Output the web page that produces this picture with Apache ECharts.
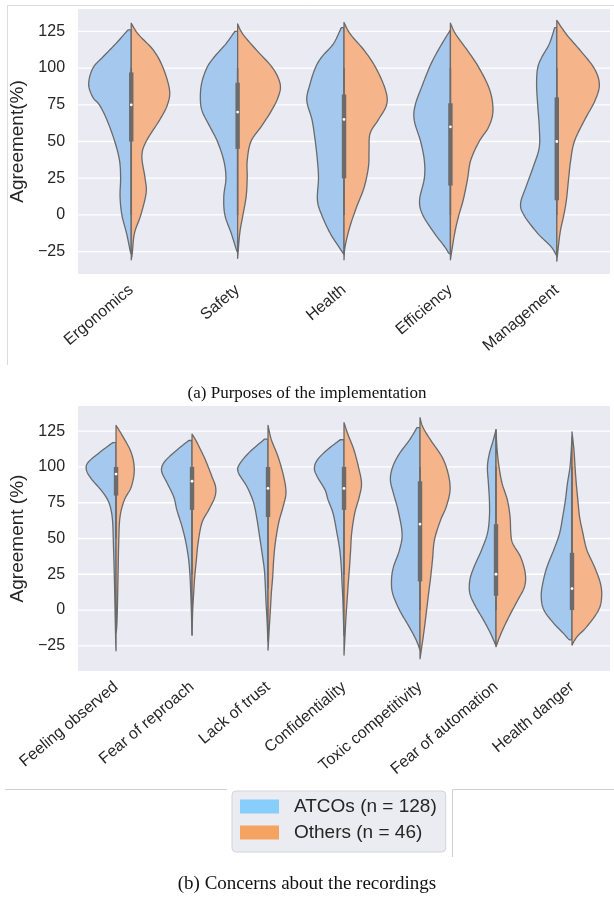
<!DOCTYPE html>
<html>
<head>
<meta charset="utf-8">
<script src="https://cdn.jsdelivr.net/npm/echarts@6/dist/echarts.min.js"></script>
<style>
  html, body { margin: 0; padding: 0; background: #ffffff; }
  #chart { width: 614px; height: 897px; }
</style>
</head>
<body>
<div id="chart"></div>
<script>
// ---------------- DATA ----------------
const catsA = ['Ergonomics', 'Safety', 'Health', 'Efficiency', 'Management'];
const catsB = ['Feeling observed', 'Fear of reproach', 'Lack of trust', 'Confidentiality',
               'Toxic competitivity', 'Fear of automation', 'Health danger'];
const yTicks = [-25, 0, 25, 50, 75, 100, 125];
const groupNames = ['ATCOs (n = 128)', 'Others (n = 46)'];

// Density profiles: [agreement value, half-width as a fraction of the category band]
const atcoA = [
  [[126,0.03],[117,0.14],[108,0.26],[100,0.36],[89,0.40],[80,0.36],[75,0.30],[65,0.23],[50,0.155],[37,0.11],[25,0.10],[12.5,0.105],[0,0.088],[-12.5,0.044],[-25,0.008],[-26,0]],
  [[125,0.026],[116.5,0.11],[107.5,0.22],[100,0.29],[89,0.34],[78,0.35],[70,0.33],[60,0.26],[50,0.19],[37,0.13],[25,0.11],[12.5,0.13],[0,0.12],[-12.5,0.06],[-24,0.01],[-25,0]],
  [[127.5,0.026],[116.5,0.10],[107.5,0.21],[100,0.27],[89,0.32],[78,0.35],[64.5,0.30],[50,0.27],[37,0.25],[25,0.24],[10,0.25],[0,0.21],[-12.5,0.13],[-21.5,0.05],[-27,0]],
  [[126,0],[116.5,0.08],[107.5,0.15],[100,0.20],[89,0.26],[75,0.33],[64.5,0.34],[50,0.28],[37,0.245],[25,0.245],[10,0.29],[0,0.26],[-12.5,0.15],[-21.5,0.055],[-26,0.015],[-26.2,0]],
  [[127.5,0.02],[116.5,0.07],[107.5,0.14],[100,0.18],[89,0.19],[75,0.18],[60,0.165],[46,0.165],[33,0.22],[19,0.29],[8,0.34],[0,0.31],[-12.5,0.18],[-21.5,0.055],[-28,0]]
];
const othersA = [
  [[130.5,0],[123,0.066],[112,0.21],[100,0.30],[85,0.36],[75,0.34],[65,0.27],[50,0.14],[40,0.10],[25,0.13],[15,0.14],[0,0.09],[-12.5,0.03],[-26,0.01],[-30.5,0]],
  [[130,0],[123,0.05],[112,0.18],[100,0.33],[89,0.40],[80,0.38],[70,0.31],[60,0.22],[50,0.125],[37,0.09],[25,0.09],[12.5,0.08],[0,0.05],[-12.5,0.02],[-29.5,0]],
  [[131,0],[123,0.06],[112,0.19],[100,0.30],[85,0.39],[75,0.40],[64.5,0.32],[55.5,0.245],[44,0.235],[33,0.23],[19,0.19],[5.7,0.12],[-8,0.055],[-21.5,0.01],[-30.5,0]],
  [[130.5,0],[123,0.05],[112,0.16],[100,0.27],[85,0.37],[71,0.40],[60,0.36],[50,0.27],[37,0.19],[24,0.16],[10,0.12],[0,0.08],[-12.5,0.04],[-30.5,0]],
  [[132.5,0],[123,0.09],[112,0.22],[100,0.35],[89,0.40],[78,0.36],[64.5,0.26],[50,0.165],[37,0.13],[24,0.11],[10,0.09],[0,0.066],[-12.5,0.03],[-31.5,0]]
];
const atcoB = [
  [[117,0.044],[110,0.22],[103,0.37],[98,0.39],[92,0.33],[84,0.20],[77,0.11],[70,0.066],[61,0.044],[47,0.035],[23,0.022],[0,0.013],[-23,0.004],[-28.5,0]],
  [[118.5,0.044],[110,0.24],[103,0.37],[97,0.40],[89,0.33],[79,0.24],[70,0.20],[58,0.13],[47,0.08],[35,0.044],[23,0.026],[12,0.017],[0,0.009],[-12,0.003],[-17.5,0]],
  [[119.5,0.044],[110,0.25],[101.5,0.38],[96,0.39],[86,0.275],[75,0.19],[63,0.144],[51,0.11],[40,0.079],[28,0.048],[16,0.035],[5,0.026],[-7,0.013],[-20,0.003],[-22,0]],
  [[119,0.05],[112,0.22],[105,0.35],[99,0.39],[93,0.35],[84,0.25],[77,0.21],[67.5,0.144],[53.5,0.092],[42,0.056],[30,0.036],[18.6,0.026],[7,0.015],[-15,0.003],[-18,0]],
  [[127.5,0.04],[118.7,0.14],[109.4,0.27],[100,0.36],[91,0.39],[81.5,0.35],[70,0.29],[53.5,0.236],[42,0.27],[30,0.35],[21,0.375],[11.6,0.36],[0,0.27],[-11.6,0.144],[-21,0.05],[-28,0]],
  [[126,0],[118.7,0.036],[109.4,0.087],[100,0.113],[88.5,0.10],[76.8,0.087],[65,0.087],[53.5,0.113],[42,0.19],[30,0.29],[21,0.344],[11.6,0.344],[2.3,0.267],[-7,0.164],[-16.3,0.072],[-25,0]],
  [[121,0],[111.7,0.01],[100,0.026],[88.5,0.06],[76.8,0.087],[65,0.123],[53.5,0.164],[42,0.24],[30,0.33],[18.6,0.385],[9.3,0.405],[0,0.37],[-9.3,0.24],[-16.3,0.113],[-20.5,0.04],[-20.6,0]]
];
const othersB = [
  [[129,0],[121.5,0.087],[110,0.20],[98,0.24],[86,0.20],[77,0.11],[65,0.052],[47,0.035],[23,0.026],[0,0.017],[-12,0.009],[-16,0]],
  [[123,0],[117,0.066],[105,0.175],[93.5,0.26],[86,0.31],[79,0.30],[70,0.22],[61,0.13],[47,0.08],[35,0.057],[23,0.035],[12,0.022],[0,0.009],[-17.5,0]],
  [[129,0],[119,0.044],[107.5,0.13],[93.5,0.205],[82,0.236],[72,0.197],[61,0.14],[47,0.096],[35,0.074],[23,0.061],[12,0.044],[0,0.031],[-12,0.017],[-28,0]],
  [[131,0],[123,0.05],[112,0.13],[100,0.19],[88.5,0.23],[79,0.20],[67.5,0.14],[53.5,0.10],[42,0.087],[30,0.072],[18.6,0.056],[7,0.041],[-4.7,0.026],[-16,0.015],[-31.5,0]],
  [[134.5,0],[128,0.036],[118.7,0.14],[107,0.29],[95.4,0.37],[83.8,0.395],[72,0.344],[62.8,0.27],[49,0.19],[35,0.164],[23,0.14],[11.6,0.113],[0,0.087],[-11.6,0.06],[-21,0.036],[-34,0]],
  [[126,0],[111.7,0.015],[100,0.04],[88.5,0.08],[76.8,0.15],[65,0.185],[53.5,0.195],[46.5,0.22],[37,0.324],[25.6,0.385],[16.3,0.375],[7,0.287],[-4.7,0.17],[-16.3,0.067],[-25.6,0]],
  [[124.5,0],[111.7,0.026],[100,0.04],[88.5,0.056],[76.8,0.077],[65,0.10],[53.5,0.144],[42,0.195],[30,0.297],[18.6,0.374],[9.3,0.39],[0,0.35],[-11.6,0.195],[-18.6,0.067],[-24.5,0]]
];

// Inner box statistics (both groups combined)
const q1A = [50, 45, 25, 20, 10];
const medA = [75, 70, 65, 60, 50];
const q3A = [97, 90, 82, 76, 80];
const whiskLoA = [0, 0, 0, 0, 0];
const whiskHiA = [100, 100, 100, 100, 100];

const q1B = [80, 70, 65, 70, 20, 10, 0];
const medB = [95, 90, 85, 85, 60, 25, 15];
const q3B = [100, 100, 100, 100, 90, 60, 40];
const whiskLoB = [50, 25, 15, 25, 0, 0, 0];
const whiskHiB = [100, 100, 100, 100, 100, 100, 100];

// ---------------- STYLE ----------------
const BLUE = '#a5c8ef', ORANGE = '#f5b48a';
const LEG_BLUE = '#87cefa', LEG_ORANGE = '#f4a460';
const EDGE = '#6a6a6a', BOXC = '#6b6b6b';
const BG = '#eaeaf2', TXT = '#262626';
const SANS = 'Liberation Sans', SERIF = 'Liberation Serif';

function catmull(pts, seg) {
  const out = [];
  const n = pts.length;
  for (let i = 0; i < n - 1; i++) {
    const p0 = pts[Math.max(i - 1, 0)], p1 = pts[i], p2 = pts[i + 1], p3 = pts[Math.min(i + 2, n - 1)];
    for (let t = 0; t < seg; t++) {
      const s = t / seg, s2 = s * s, s3 = s2 * s;
      const f = k => 0.5 * (2 * p1[k] + (-p0[k] + p2[k]) * s +
        (2 * p0[k] - 5 * p1[k] + 4 * p2[k] - p3[k]) * s2 +
        (-p0[k] + 3 * p1[k] - 3 * p2[k] + p3[k]) * s3);
      out.push([f(0), f(1)]);
    }
  }
  out.push(pts[n - 1]);
  return out;
}

function violinRender(profiles, side, fill) {
  return function (params, api) {
    const idx = api.value(0);
    const prof = profiles[idx];
    const band = api.size([1, 0])[0];
    const cx = api.coord([idx, 0])[0];
    const pts = prof.map(p => [cx + side * p[1] * band, api.coord([idx, p[0]])[1]]);
    let curve = catmull(pts, 10).map(p => {
      const d = side * (p[0] - cx);
      return [d < 0 ? cx : p[0], p[1]];
    });
    const topY = api.coord([idx, prof[0][0]])[1];
    const botY = api.coord([idx, prof[prof.length - 1][0]])[1];
    const poly = [[cx, topY]].concat(curve, [[cx, botY]]);
    return {
      type: 'polygon',
      shape: { points: poly },
      style: { fill: fill, stroke: EDGE, lineWidth: 1.3, lineJoin: 'round' }
    };
  };
}

function boxRender(q1, med, q3, lo, hi) {
  return function (params, api) {
    const idx = api.value(0);
    const cx = api.coord([idx, 0])[0];
    const yq1 = api.coord([idx, q1[idx]])[1];
    const yq3 = api.coord([idx, q3[idx]])[1];
    const ylo = api.coord([idx, lo[idx]])[1];
    const yhi = api.coord([idx, hi[idx]])[1];
    const ym = api.coord([idx, med[idx]])[1];
    return {
      type: 'group',
      children: [
        { type: 'line', shape: { x1: cx, y1: ylo, x2: cx, y2: yhi }, style: { stroke: BOXC, lineWidth: 1.6 } },
        { type: 'rect', shape: { x: cx - 2.2, y: yq3, width: 4.4, height: yq1 - yq3 }, style: { fill: BOXC } },
        { type: 'circle', shape: { cx: cx, cy: ym, r: 1.4 }, style: { fill: '#ffffff' } }
      ]
    };
  };
}

function gridLineRender(params, api) {
  const y = api.coord([0, api.value(1)])[1];
  const cs = params.coordSys;
  return {
    type: 'line',
    shape: { x1: cs.x, y1: y, x2: cs.x + cs.width, y2: y },
    style: { stroke: '#ffffff', lineWidth: 1.3 }
  };
}

function fmtTick(v) { return String(v).replace('-', '\u2212'); }

function makeX(cats, gi) {
  return {
    type: 'category', gridIndex: gi, data: cats, boundaryGap: true,
    axisLine: { show: false }, axisTick: { show: false }, splitLine: { show: false },
    axisLabel: { rotate: 40, interval: 0, fontSize: 16, color: TXT, fontFamily: SANS, margin: 14 }
  };
}
function makeY(gi, name, min, max) {
  return {
    type: 'value', gridIndex: gi, min: min, max: max,
    name: name, nameLocation: 'middle', nameGap: 45,
    nameTextStyle: { fontSize: 19, color: TXT, fontFamily: SANS },
    axisLine: { show: false }, axisTick: { show: false }, splitLine: { show: false },
    axisLabel: { customValues: yTicks, formatter: fmtTick, fontSize: 16, color: TXT, fontFamily: SANS, margin: 13 }
  };
}

const idxA = catsA.map((c, i) => [i, medA[i]]);
const idxB = catsB.map((c, i) => [i, medB[i]]);
const gridData = yTicks.map(v => [0, v]);

const series = [];
[[0, idxA, atcoA, othersA, q1A, medA, q3A, whiskLoA, whiskHiA],
 [1, idxB, atcoB, othersB, q1B, medB, q3B, whiskLoB, whiskHiB]].forEach(cfg => {
  const [gi, idx, atco, others, q1, med, q3, lo, hi] = cfg;
  series.push({ type: 'custom', name: 'grid' + gi, xAxisIndex: gi, yAxisIndex: gi, z: 1, silent: true,
    data: gridData, encode: { x: 0, y: 1 }, renderItem: gridLineRender });
  series.push({ type: 'custom', name: groupNames[0], xAxisIndex: gi, yAxisIndex: gi, z: 2, silent: true,
    itemStyle: { color: BLUE }, data: idx, encode: { x: 0, y: 1 }, renderItem: violinRender(atco, -1, BLUE) });
  series.push({ type: 'custom', name: groupNames[1], xAxisIndex: gi, yAxisIndex: gi, z: 2, silent: true,
    itemStyle: { color: ORANGE }, data: idx, encode: { x: 0, y: 1 }, renderItem: violinRender(others, 1, ORANGE) });
  series.push({ type: 'custom', name: 'box' + gi, xAxisIndex: gi, yAxisIndex: gi, z: 3, silent: true,
    data: idx, encode: { x: 0, y: 1 }, renderItem: boxRender(q1, med, q3, lo, hi) });
});

const chart = echarts.init(document.getElementById('chart'), null, { renderer: 'canvas' });
chart.setOption({
  animation: false,
  backgroundColor: '#ffffff',
  title: [
    { text: '(a) Purposes of the implementation', left: 'center', top: 380,
      textStyle: { fontFamily: SERIF, fontSize: 17, fontWeight: 'normal', color: '#111' } },
    { text: '(b) Concerns about the recordings', left: 'center', top: 870,
      textStyle: { fontFamily: SERIF, fontSize: 19, fontWeight: 'normal', color: '#111' } }
  ],
  grid: [
    { left: 76, top: 9, width: 534, height: 265, show: true, backgroundColor: BG, borderWidth: 0 },
    { left: 76, top: 406, width: 534, height: 265, show: true, backgroundColor: BG, borderWidth: 0 }
  ],
  xAxis: [makeX(catsA, 0), makeX(catsB, 1)],
  yAxis: [makeY(0, 'Agreement(%)', -40.2, 140.2), makeY(1, 'Agreement (%)', -42.6, 142.6)],
  legend: {
    orient: 'vertical', left: 232, top: 791, selectedMode: false,
    itemWidth: 39, itemHeight: 14, itemGap: 7, icon: 'rect',
    padding: [6, 9, 10, 8],
    backgroundColor: '#ebebf2', borderColor: '#d4d4d8', borderWidth: 1, borderRadius: 4,
    textStyle: { fontSize: 19, lineHeight: 19, color: TXT, fontFamily: SANS, padding: [0, 0, 0, 10] },
    data: [
      { name: groupNames[0], itemStyle: { color: LEG_BLUE, borderWidth: 0 } },
      { name: groupNames[1], itemStyle: { color: LEG_ORANGE, borderWidth: 0 } }
    ]
  },
  graphic: [
    { type: 'polyline', silent: true, shape: { points: [[7.5, 365], [7.5, 5.5], [614, 5.5]] },
      style: { stroke: '#dcdcdc', lineWidth: 1, fill: null } },
    { type: 'line', silent: true, shape: { x1: 5, y1: 789.5, x2: 227, y2: 789.5 },
      style: { stroke: '#d0d0d0', lineWidth: 1 } },
    { type: 'polyline', silent: true, shape: { points: [[452.5, 857], [452.5, 789.5], [614, 789.5]] },
      style: { stroke: '#d0d0d0', lineWidth: 1, fill: null } }
  ],
  series: series
});
</script>
</body>
</html>
